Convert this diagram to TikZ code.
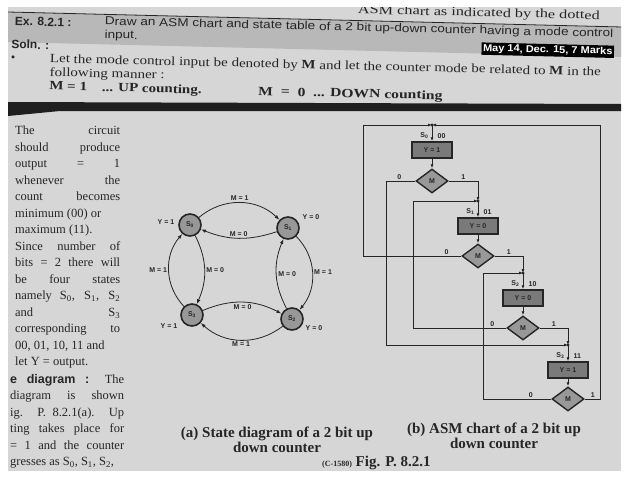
\documentclass[tikz,border=0pt]{standalone}
\usepackage{fontspec}
\setmainfont{Liberation Serif}
\setsansfont{Liberation Sans}
\usepackage{graphicx}
\usepackage{tikz}
\usetikzlibrary{arrows.meta,shapes.geometric}
\definecolor{ink}{RGB}{38,38,38}
\definecolor{pagegray}{RGB}{214,214,214}
\definecolor{bandgray}{RGB}{184,184,184}
\definecolor{shade}{RGB}{152,152,152}

\begin{document}
\begin{tikzpicture}[x=1pt, y=-1pt,
  every node/.style={text=ink},
  txt/.style={anchor=west, inner sep=0pt, font=\fontsize{12.5}{13}\selectfont},
  head/.style={anchor=west, inner sep=0pt, font=\sffamily\fontsize{11.5}{12}\selectfont},
  para/.style={anchor=north west, inner sep=0pt, align=justify, font=\fontsize{12.5}{16.5}\selectfont},
  state/.style={circle, draw=ink, line width=1.6pt, fill=shade, minimum size=22pt, inner sep=0pt,
    font=\sffamily\bfseries\fontsize{7}{8}\selectfont},
  lbl/.style={font=\sffamily\bfseries\fontsize{7}{8}\selectfont, inner sep=1.5pt},
  edge/.style={draw=ink, line width=0.8pt, -{Latex[length=5pt,width=3.5pt]}},
  asmbox/.style={draw=ink, line width=1.4pt, fill=shade!80!black, minimum width=40pt, minimum height=16pt,
    inner sep=0pt, font=\sffamily\bfseries\fontsize{7}{8}\selectfont},
  decide/.style={diamond, draw=ink, line width=1.4pt, fill=shade, minimum width=32pt, minimum height=24pt,
    inner sep=0pt, font=\sffamily\bfseries\fontsize{7}{8}\selectfont},
  flow/.style={draw=ink, line width=0.8pt, -{Latex[length=4pt,width=3pt]}},
  captext/.style={font=\bfseries\fontsize{15}{15.5}\selectfont, align=center, inner sep=0pt}
]
\useasboundingbox (0,0) rectangle (638,479);
\fill[white] (0,0) rectangle (638,479);
\fill[pagegray] (8,7) rectangle (621,471);

% Header of the page (photo is a little tilted)
\begin{scope}
\clip (8,7) rectangle (621,471);
\begin{scope}[rotate around={-1.4:(8,12)}, transform shape]
\fill[bandgray] (0,12) rectangle (640,42);
\draw[ink, line width=0.8pt] (0,12) -- (640,12);
\node[txt, anchor=east] (prev) at (600,2) {\scalebox{1.3}[1]{ASM chart as indicated by the dotted}};
\node[head, font=\sffamily\bfseries\fontsize{12}{12}\selectfont] (ex) at (15,21) {Ex. 8.2.1 :};
\node[head] (task) at (105,19.5) {\scalebox{1.18}[1]{Draw an ASM chart and state table of a 2 bit up-down counter having a mode control}};
\node[head] (task2) at (105,33) {\scalebox{1.18}[1]{input.}};
\node[head, font=\sffamily\bfseries\fontsize{12}{12}\selectfont] (soln) at (12,44) {Soln. :};
\node[fill=black, text=white, inner sep=1.5pt, anchor=east,
  font=\sffamily\bfseries\fontsize{10}{11}\selectfont] (marks) at (615,37) {\scalebox{1.1}[1]{May 14, Dec. 15, 7 Marks}};
\node[txt] (bul) at (12,59) {\textbullet};
\node[txt] (let) at (51,58.5) {\scalebox{1.2}[1]{Let the mode control input be denoted by \textbf{M} and let the counter mode be related to \textbf{M} in the}};
\node[txt] (fol) at (51,72) {\scalebox{1.2}[1]{following manner :}};
\node[txt, font=\bfseries\fontsize{12.5}{13}\selectfont] (up) at (51,86) {\scalebox{1.2}[1]{M = 1\quad ... UP counting.}};
\node[txt, font=\bfseries\fontsize{12.5}{13}\selectfont] (down) at (260,86) {\scalebox{1.25}[1]{M \ = \ 0 \ ... DOWN counting}};
\end{scope}
% fold between the two pages
\fill[black!88] (8,102) -- (621,104) -- (621,111) -- (60,111) -- (8,116) -- cycle;
\end{scope}

% Text column
\node[para, text width=105pt] (col1) at (15,126) {\tolerance=10000\hbadness=10000\relax
The circuit\linebreak should produce\linebreak
output = 1\linebreak whenever the\linebreak count becomes\linebreak minimum (00) or\newline
maximum (11).\newline Since number of\linebreak bits = 2 there will\linebreak be four states\linebreak
namely S\textsubscript{0}, S\textsubscript{1}, S\textsubscript{2}\linebreak and S\textsubscript{3}\linebreak
corresponding to\linebreak 00, 01, 10, 11 and\newline let Y = output.};
\node[para, text width=114pt] (col2) at (10,374) {\tolerance=10000\hbadness=10000\relax
{\sffamily\bfseries e diagram :} The\linebreak
diagram is shown\linebreak ig. P. 8.2.1(a). Up\linebreak ting takes place for\linebreak
= 1 and the counter\linebreak gresses as S\textsubscript{0}, S\textsubscript{1}, S\textsubscript{2},};

% (a) State diagram
\node[state] (s0) at (190,225) {S\textsubscript{0}};
\node[state] (s1) at (288,228) {S\textsubscript{1}};
\node[state] (s2) at (292,319) {S\textsubscript{2}};
\node[state] (s3) at (192,315) {S\textsubscript{3}};
\node[lbl] (y0) at (166,222) {Y = 1};
\node[lbl] (y1) at (311,217) {Y = 0};
\node[lbl] (y3) at (169,326) {Y = 1};
\node[lbl] (y2) at (314,328) {Y = 0};
\draw[edge] (s0) to[bend left=42] node[lbl, above] {M = 1} (s1);
\draw[edge] (s1) to[bend left=20] node[lbl, above] {M = 0} (s0);
\draw[edge] (s1) to[bend left=42] node[lbl, right] {M = 1} (s2);
\draw[edge] (s2) to[bend left=25] node[lbl, right] {M = 0} (s1);
\draw[edge] (s2) to[bend left=40] node[lbl, below] {M = 1} (s3);
\draw[edge] (s3) to[bend left=25] node[lbl, below] {M = 0} (s2);
\draw[edge] (s3) to[bend left=42] node[lbl, left] {M = 1} (s0);
\draw[edge] (s0) to[bend left=25] node[lbl, right] {M = 0} (s3);
\node[captext] (capa) at (277,440) {(a) State diagram of a 2 bit up\\down counter};

% (b) ASM chart
\coordinate (j0) at (432,125);
\coordinate (j1) at (478,201);
\coordinate (j2) at (523,273);
\coordinate (j3) at (568,345);
\node[asmbox] (b0) at (432,150) {Y = 1};
\node[asmbox] (b1) at (478,226) {Y = 0};
\node[asmbox] (b2) at (523,298) {Y = 0};
\node[asmbox] (b3) at (568,370) {Y = 1};
\node[decide] (d0) at (432,181) {M};
\node[decide] (d1) at (478,256) {M};
\node[decide] (d2) at (523,328) {M};
\node[decide] (d3) at (568,399) {M};
\node[lbl, anchor=east] (n0) at (430,136) {S\textsubscript{0}};
\node[lbl, anchor=west] (c0) at (436,136) {00};
\node[lbl, anchor=east] (n1) at (476,212) {S\textsubscript{1}};
\node[lbl, anchor=west] (c1) at (482,212) {01};
\node[lbl, anchor=east] (n2) at (521,284) {S\textsubscript{2}};
\node[lbl, anchor=west] (c2) at (527,284) {10};
\node[lbl, anchor=east] (n3) at (566,356) {S\textsubscript{3}};
\node[lbl, anchor=west] (c3) at (572,356) {11};
\draw[flow] (j0) -- (b0);
\draw[flow] (j1) -- (b1);
\draw[flow] (j2) -- (b2);
\draw[flow] (j3) -- (b3);
\draw[flow] (b0) -- (d0);
\draw[flow] (b1) -- (d1);
\draw[flow] (b2) -- (d2);
\draw[flow] (b3) -- (d3);
\draw[flow] (d0.west) -- node[lbl, above, pos=.55] {0} ++(-29,0) |- (j3);
\draw[flow] (d0.east) -| node[lbl, above, pos=.25] {1} (j1);
\draw[flow] (d1.west) -- node[lbl, above, pos=.15] {0} ++(-98,0) |- (j0);
\draw[flow] (d1.east) -| node[lbl, above, pos=.25] {1} (j2);
\draw[flow] (d2.west) -- node[lbl, above, pos=.15] {0} ++(-93,0) |- (j1);
\draw[flow] (d2.east) -| node[lbl, above, pos=.25] {1} (j3);
\draw[flow] (d3.west) -- node[lbl, above, pos=.3] {0} ++(-68,0) |- (j2);
\draw[flow] (d3.east) -- node[lbl, above] {1} ++(16,0) |- (j0);
\fill[ink] (j0) circle (1.6pt) (j1) circle (1.6pt) (j2) circle (1.6pt) (j3) circle (1.6pt);
\node[captext] (capb) at (494,436) {(b) ASM chart of a 2 bit up\\down counter};
\node[captext, anchor=west] (fig) at (322,463) {{\fontsize{8}{8}\selectfont (C-1580)} Fig. P. 8.2.1};
\end{tikzpicture}
\end{document}
